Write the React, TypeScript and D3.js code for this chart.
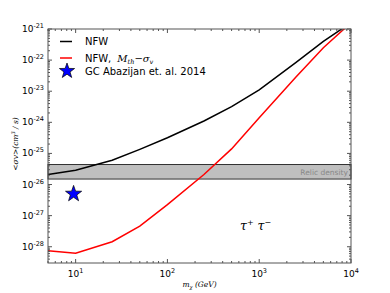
import React from 'react';
import * as d3 from 'd3';

// masses (GeV)
const massNfw = [5, 10, 25, 50, 100, 250, 500, 1000, 2500, 5000, 10000];
const sigmaNfw = [2.1e-26, 2.9e-26, 6e-26, 1.35e-25, 3.2e-25, 1.1e-24, 3.2e-24, 1.1e-23, 8.3e-23, 4e-22, 1.6e-21];
const massMth = [5, 10, 25, 50, 100, 250, 500, 1000, 2500, 5000, 10000];
const sigmaMth = [7.4e-29, 6.2e-29, 1.45e-28, 4.6e-28, 2.25e-27, 2.1e-26, 1.4e-25, 1.4e-24, 2.8e-23, 2.5e-22, 1.6e-21];
const relicBand = [1.5e-26, 4.4e-26];
const gcPoint = { mass: 9.5, sigma: 5e-27 };
const xTicks = [1, 2, 3, 4];
const yTicks = [-28, -27, -26, -25, -24, -23, -22, -21];

const W = 390;
const H = 293;
const margin = { top: 29, right: 39, bottom: 30, left: 48 };
const font = 'DejaVu Sans, sans-serif';
const mathFont = 'DejaVu Serif, serif';

const starPath = (cx: number, cy: number, R: number) => {
  const r = R * 0.4;
  const pts: string[] = [];
  for (let i = 0; i < 10; i++) {
    const a = -Math.PI / 2 + (i * Math.PI) / 5;
    const rr = i % 2 === 0 ? R : r;
    pts.push(`${cx + rr * Math.cos(a)},${cy + rr * Math.sin(a)}`);
  }
  return `M${pts.join('L')}Z`;
};

export default function App() {
  const x = d3.scaleLog().domain([5, 1e4]).range([margin.left, W - margin.right]);
  const y = d3.scaleLog().domain([3e-29, 1e-21]).range([H - margin.bottom, margin.top]);
  const x0 = margin.left, x1 = W - margin.right, y0 = margin.top, y1 = H - margin.bottom;

  const line = d3.line<[number, number]>().x(d => x(d[0])).y(d => y(d[1]));
  const nfwPts = massNfw.map((m, i) => [m, sigmaNfw[i]] as [number, number]);
  const mthPts = massMth.map((m, i) => [m, sigmaMth[i]] as [number, number]);

  // minor ticks
  const xMinor: number[] = [];
  for (let e = 0; e <= 3; e++) for (let k = 2; k <= 9; k++) {
    const v = k * Math.pow(10, e);
    if (v >= 5 && v <= 1e4) xMinor.push(v);
  }
  const yMinor: number[] = [];
  for (let e = -29; e <= -22; e++) for (let k = 2; k <= 9; k++) {
    const v = k * Math.pow(10, e);
    if (v >= 3e-29 && v <= 1e-21) yMinor.push(v);
  }

  return (
    <svg width={W} height={H} style={{ position: 'absolute', left: 0, top: 0, background: '#fff' }}>
      <defs>
        <clipPath id="plot">
          <rect x={x0} y={y0} width={x1 - x0} height={y1 - y0} />
        </clipPath>
      </defs>

      {/* relic band */}
      <rect x={x0} y={y(relicBand[1])} width={x1 - x0} height={y(relicBand[0]) - y(relicBand[1])}
        fill="#bfbfbf" stroke="#333" strokeWidth={1} />
      <text x={x1 - 3} y={(y(relicBand[0]) + y(relicBand[1])) / 2 + 3} textAnchor="end"
        fontFamily={font} fontSize={7.5} fill="#888">Relic density</text>

      <g clipPath="url(#plot)">
        <path d={line(nfwPts) || ''} fill="none" stroke="#000" strokeWidth={1.5} />
        <path d={line(mthPts) || ''} fill="none" stroke="#ff0000" strokeWidth={1.5} />
      </g>

      <path d={starPath(x(gcPoint.mass), y(gcPoint.sigma), 8.5)} fill="#0000ff" stroke="#000" strokeWidth={0.7} />

      {/* frame */}
      <rect x={x0} y={y0} width={x1 - x0} height={y1 - y0} fill="none" stroke="#555" strokeWidth={1} />

      {/* ticks */}
      {xTicks.map(e => {
        const px = x(Math.pow(10, e));
        return (
          <g key={'xt' + e}>
            <line x1={px} x2={px} y1={y1} y2={y1 - 4} stroke="#555" />
            <line x1={px} x2={px} y1={y0} y2={y0 + 4} stroke="#555" />
            <text x={px} y={y1 + 14} textAnchor="middle" fontFamily={font} fontSize={9} fill="#000">
              10<tspan dy={-4} fontSize={6.5}>{e}</tspan>
            </text>
          </g>
        );
      })}
      {xMinor.map(v => (
        <g key={'xm' + v}>
          <line x1={x(v)} x2={x(v)} y1={y1} y2={y1 - 2} stroke="#555" />
          <line x1={x(v)} x2={x(v)} y1={y0} y2={y0 + 2} stroke="#555" />
        </g>
      ))}
      {yTicks.map(e => {
        const py = y(Math.pow(10, e));
        return (
          <g key={'yt' + e}>
            <line x1={x0} x2={x0 + 4} y1={py} y2={py} stroke="#555" />
            <line x1={x1} x2={x1 - 4} y1={py} y2={py} stroke="#555" />
            <text x={x0 - 4} y={py + 3} textAnchor="end" fontFamily={font} fontSize={9} fill="#000">
              10<tspan dy={-4} fontSize={6.5}>{e}</tspan>
            </text>
          </g>
        );
      })}
      {yMinor.map(v => (
        <g key={'ym' + v}>
          <line x1={x0} x2={x0 + 2} y1={y(v)} y2={y(v)} stroke="#555" />
          <line x1={x1} x2={x1 - 2} y1={y(v)} y2={y(v)} stroke="#555" />
        </g>
      ))}

      {/* axis labels */}
      <text x={(x0 + x1) / 2} y={287} textAnchor="middle" fontFamily={mathFont} fontSize={7.5} fontStyle="italic" fill="#000">
        m<tspan fontSize={5} dy={1.5}>χ</tspan><tspan dy={-1.5}> (GeV)</tspan>
      </text>
      <text transform={`translate(18,${(y0 + y1) / 2 - 2}) rotate(-90)`} textAnchor="middle"
        fontFamily={mathFont} fontSize={7.5} fontStyle="italic" fill="#000">
        {'<σv>(cm'}<tspan dy={-3} fontSize={5}>3</tspan><tspan dy={3}>{' / s)'}</tspan>
      </text>

      {/* channel label */}
      <text x={240} y={230} fontFamily={mathFont} fontSize={12.5} fontStyle="italic" fill="#000">
        τ<tspan dy={-5} fontSize={8}>+</tspan><tspan dy={5}>{'  τ'}</tspan><tspan dy={-5} fontSize={8}>−</tspan>
      </text>

      {/* legend */}
      <g>
        <line x1={60} x2={72} y1={41.5} y2={41.5} stroke="#000" strokeWidth={1.5} />
        <text x={85} y={45} fontFamily={font} fontSize={10} fill="#000">NFW</text>
        <line x1={60} x2={72} y1={58} y2={58} stroke="#ff0000" strokeWidth={1.5} />
        <text x={85} y={61.5} fontFamily={font} fontSize={10} fill="#000">
          NFW,
          <tspan dx={6} fontFamily={mathFont} fontStyle="italic">M</tspan>
          <tspan fontFamily={mathFont} fontStyle="italic" fontSize={6.5} dy={2}>th</tspan>
          <tspan dy={-2} fontFamily={mathFont}>−</tspan>
          <tspan fontFamily={mathFont} fontStyle="italic">σ</tspan>
          <tspan fontFamily={mathFont} fontStyle="italic" fontSize={6.5} dy={2}>v</tspan>
        </text>
        <path d={starPath(67, 71, 8)} fill="#0000ff" stroke="#000" strokeWidth={0.7} />
        <text x={85} y={75} fontFamily={font} fontSize={10} fill="#000">GC Abazijan et. al. 2014</text>
      </g>
    </svg>
  );
}
